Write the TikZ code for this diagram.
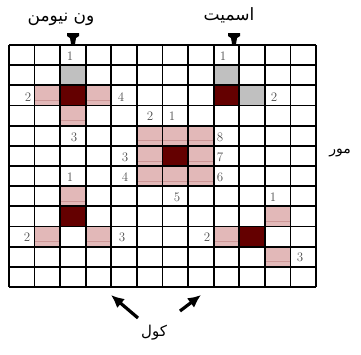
\documentclass[tikz,border=0pt]{standalone}
\usepackage{fontspec}
\newfontfamily\arabicfont[Script=Arabic]{DejaVu Sans}
\TeXXeTstate=1
\usetikzlibrary{arrows.meta}
\definecolor{darkc}{RGB}{100,0,0}
\definecolor{grayc}{RGB}{192,192,192}
\definecolor{pinkc}{RGB}{226,184,184}
\definecolor{pinkl}{RGB}{205,150,150}
\definecolor{numc}{RGB}{80,80,80}
\newcommand\cellat[3]{\fill[#1] ({9+#2*25.583},{45+#3*20.167}) rectangle ++(25.583,20.167);}
\newcommand\pinkat[2]{\cellat{pinkc}{#1}{#2}%
  \draw[pinkl,line width=0.6pt] ({9+#1*25.583},{45+#2*20.167+15}) -- ++(25.583,0);}
\begin{document}
\begin{tikzpicture}[x=1pt,y=-1pt,
  gridline/.style={line width=1.8pt,black},
  num/.style={font=\fontsize{13}{13}\selectfont,text=numc,inner sep=0pt},
  lbl/.style={font=\arabicfont,inner sep=0pt},
  bigarrow/.style={line width=3.2pt,-{Latex[length=13pt,width=12pt]}},
  marker/.style={fill=black}]
\useasboundingbox (0,0) rectangle (361,354);
% von Neumann
\cellat{darkc}{2}{2}
\cellat{grayc}{2}{1}
\pinkat{1}{2}
\pinkat{3}{2}
\pinkat{2}{3}
% Smith
\cellat{darkc}{8}{2}
\cellat{grayc}{8}{1}
\cellat{grayc}{9}{2}
% Moore
\foreach \c in {5,6,7}{\foreach \r in {4,5,6}{\pinkat{\c}{\r}}}
\cellat{darkc}{6}{5}
% Cole left
\cellat{darkc}{2}{8}
\pinkat{2}{7}
\pinkat{1}{9}
\pinkat{3}{9}
% Cole right
\cellat{darkc}{9}{9}
\pinkat{8}{9}
\pinkat{10}{8}
\pinkat{10}{10}
% grid
\foreach \i in {0,...,12}{
  \draw[gridline] ({9+\i*25.583},45) -- ({9+\i*25.583},287);
  \draw[gridline] (9,{45+\i*20.167}) -- (316,{45+\i*20.167});
}
% numbers
\node[num] (vn1) at (70,56) {1};
\node[num] (vn2) at (28,97) {2};
\node[num] (vn4) at (121,97) {4};
\node[num] (vn3) at (74,137) {3};
\node[num] (sm1) at (223,56) {1};
\node[num] (sm2) at (274,97) {2};
\node[num] (mo2) at (150,116) {2};
\node[num] (mo1) at (172,116) {1};
\node[num] (mo8) at (220,137) {8};
\node[num] (mo7) at (220,157) {7};
\node[num] (mo6) at (220,177) {6};
\node[num] (mo5) at (177,197) {5};
\node[num] (mo3) at (125,157) {3};
\node[num] (mo4) at (125,177) {4};
\node[num] (cl1) at (70,177) {1};
\node[num] (cl2) at (27,237) {2};
\node[num] (cl3) at (122,237) {3};
\node[num] (cr1) at (273,197) {1};
\node[num] (cr2) at (207,237) {2};
\node[num] (cr3) at (300,257) {3};
% labels
\node[lbl,font=\arabicfont\fontsize{17}{17}\selectfont] (tvn) at (61,19) {\beginR ون نیومن\endR};
\node[lbl,font=\arabicfont\fontsize{17}{17}\selectfont] (tsm) at (229,15) {\beginR اسمیت\endR};
\node[lbl,font=\arabicfont\fontsize{14}{14}\selectfont] (tmo) at (340,153) {\beginR مور\endR};
\node[lbl,font=\arabicfont\fontsize{15}{15}\selectfont] (tco) at (154,333) {\beginR کول\endR};
% markers
\fill[marker] (67,33) -- (79,33) -- (79,36) -- (76,38) -- (75,44) -- (71,44) -- (70,38) -- (67,36) -- cycle;
\fill[marker] (228,33) -- (240,33) -- (240,36) -- (237,38) -- (236,44) -- (232,44) -- (231,38) -- (228,36) -- cycle;
% arrows
\coordinate (a1s) at (138,318);
\coordinate (a1e) at (111,295);
\coordinate (a2s) at (180,311);
\coordinate (a2e) at (201,295);
\draw[bigarrow] (a1s) -- (a1e);
\draw[bigarrow] (a2s) -- (a2e);
\end{tikzpicture}
\end{document}
